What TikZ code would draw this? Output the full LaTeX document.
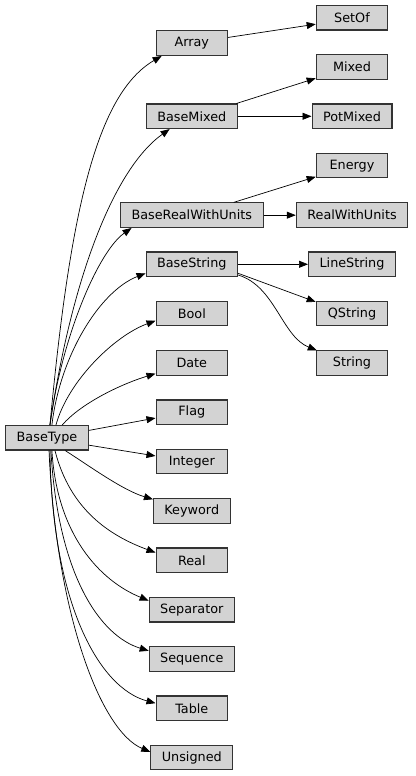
\documentclass[tikz,border=0pt]{standalone}
\usepackage{fontspec}
\setmainfont{DejaVu Sans}
\usepackage{tikz}
\usetikzlibrary{arrows.meta}
\definecolor{clsfill}{HTML}{D3D3D3}
\definecolor{clsline}{HTML}{333333}
\tikzset{
  cls/.style  = {draw=clsline, fill=clsfill, line width=1.1pt, minimum width=71.5pt, minimum height=24.5pt,
                 inner xsep=11pt, inner ysep=0pt, font=\fontsize{12.8}{15}\selectfont},
  edge/.style = {-{Triangle[length=9pt,width=7pt]}, draw=black, line width=0.7pt},
}

\begin{document}
\begin{tikzpicture}[x=1pt,y=1pt]
  \useasboundingbox (0,0) rectangle (415,776);

  % root
  \node[cls] (BaseType) at (47,338.2) {BaseType};

  % ---- first level ----
  \foreach \n/\y in {Array/732.8, BaseMixed/659.7, BaseRealWithUnits/560.8, BaseString/511.7,
                     Bool/462.3, Date/412.8, Flag/363.7, Integer/314.3, Keyword/264.8,
                     Real/215.7, Separator/166.2, Sequence/116.8, Table/67.7, Unsigned/18.3} {
    \node[cls] (\n) at (191.8,\y) {\n};
  }

  % ---- second level ----
  \foreach \n/\y in {SetOf/758.2, Mixed/708.8, PotMixed/659.7, Energy/610.3,
                     RealWithUnits/560.8, LineString/511.7, QString/462.3, String/412.8} {
    \node[cls] (\n) at (352,\y) {\n};
  }

  % BaseType -> first level (curved)
  \foreach \t/\s/\e/\ax/\ay/\bx/\by in {%
    Array/77/203/20/214/-65/-38,
    BaseMixed/77/210/22/149/-55/-39,
    BaseRealWithUnits/77/192/12/89/-33/-23,
    BaseString/69/191/8/69/-46/-18,
    Bool/55/191/12/44/-41/-15,
    Date/40/196/18/21/-36/-11,
    Keyword/325/163/25/-16/-30/9,
    Real/302/168/15/-59/-46/17,
    Separator/291/168/5/-84/-49/20,
    Sequence/287/169/7/-124/-49/15,
    Table/283/172/2/-154/-56/15,
    Unsigned/279/172/7/-162/-50/21}
  {
    \draw[edge] (BaseType.\s) .. controls +(\ax,\ay) and +(\bx,\by) .. (\t.\e);
  }
  \draw[edge] (BaseType.10) -- (Flag.189);
  \draw[edge] (BaseType.350) -- (Integer.171);

  % first level -> second level
  \draw[edge] (Array.9) -- (SetOf.190);
  \draw[edge] (BaseMixed.16) -- (Mixed.197);
  \draw[edge] (BaseMixed) -- (PotMixed);
  \draw[edge] (BaseRealWithUnits.17) -- (Energy.197);
  \draw[edge] (BaseRealWithUnits) -- (RealWithUnits);
  \draw[edge] (BaseString) -- (LineString);
  \draw[edge] (BaseString.349) -- (QString.162);
  \draw[edge] (BaseString.347) .. controls +(37,-11) and +(-35,14) .. (String.160);
\end{tikzpicture}
\end{document}
